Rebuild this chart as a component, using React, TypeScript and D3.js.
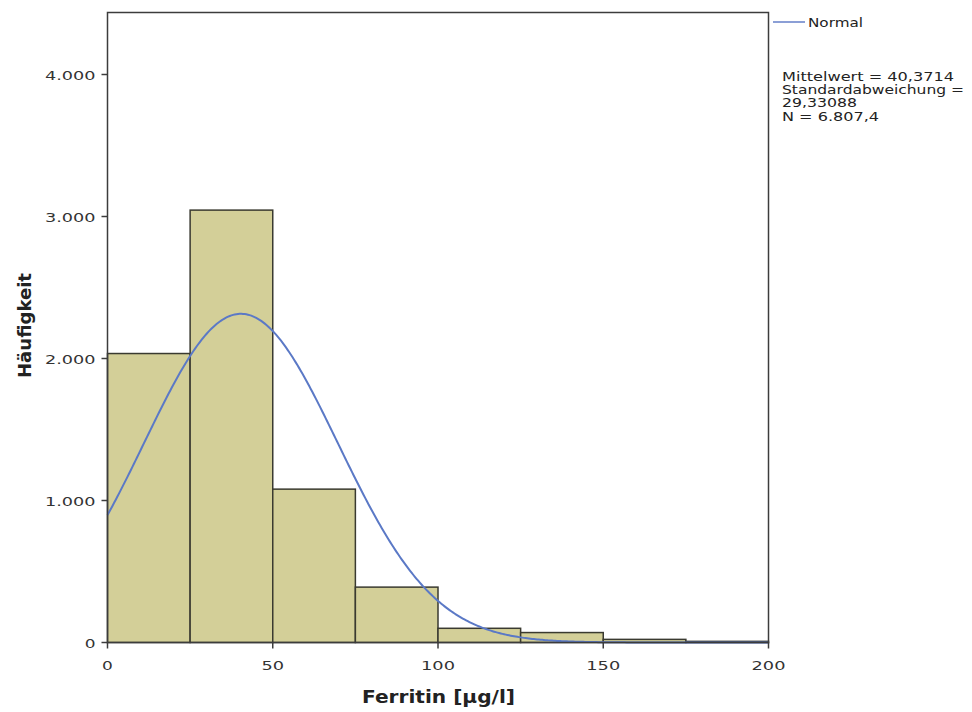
import React from "react";
import * as d3 from "d3";

const binStarts = [0, 25, 50, 75, 100, 125, 150, 175];
const binWidth = 25;
const counts = [2035, 3045, 1080, 390, 100, 70, 22, 8];
const yTicks = [0, 1000, 2000, 3000, 4000];
const xTicks = [0, 50, 100, 150, 200];
const fitMean = 40.3714;
const fitSd = 29.33088;
const fitN = 6807.4;
const statLines = ["Mittelwert = 40,3714", "Standardabweichung =", "29,33088", "N = 6.807,4"];

const fmt = (v: number) => (v === 0 ? "0" : d3.format(",")(v).replace(/,/g, "."));

// approximate rendered width (reference text is horizontally wide)
const tickW = (s: string) => s.length * 11.3 - (s.includes(".") ? 5 : 0) - (s.length === 1 ? 0.5 : 0) + (s.includes(".") ? -1 : 0);
const statW = [172, 182, 75, 97];

export default function App() {
  const W = 972, H = 712;
  const left = 107.5, right = 768.5, top = 12.5, bottom = 642.5;
  const x = d3.scaleLinear().domain([0, 200]).range([left, right]);
  const y = d3.scaleLinear().domain([0, 4000]).range([bottom, 74.5]);

  const pts = d3.range(0, 200.01, 0.5).map((v) => {
    const z = (v - fitMean) / fitSd;
    const val = (fitN * binWidth) / (fitSd * Math.sqrt(2 * Math.PI)) * Math.exp(-0.5 * z * z);
    return [v, val] as [number, number];
  });
  const line = d3.line<[number, number]>().x((d) => x(d[0])).y((d) => y(d[1]));

  const font = "'DejaVu Sans', Verdana, sans-serif";

  return (
    <svg width={W} height={H} style={{ position: "absolute", left: 0, top: 0, background: "#fff" }} fontFamily={font}>
      <rect x={0} y={0} width={W} height={H} fill="#fff" />
      {binStarts.map((b, i) => (
        <rect
          key={i}
          x={x(b)}
          y={y(counts[i])}
          width={x(b + binWidth) - x(b)}
          height={y(0) - y(counts[i])}
          fill="#d3cf98"
          stroke="#3a3a30"
          strokeWidth={1.5}
        />
      ))}
      <path d={line(pts) || ""} fill="none" stroke="#5b79c6" strokeWidth={2} />
      <rect x={left} y={top} width={right - left} height={bottom - top} fill="none" stroke="#3c3c3c" strokeWidth={1.5} />
      {yTicks.map((t) => {
        const s = fmt(t);
        return (
          <g key={t}>
            <line x1={left - 6} x2={left} y1={y(t)} y2={y(t)} stroke="#3c3c3c" strokeWidth={1.5} />
            <text
              x={left - 12 - tickW(s)}
              y={y(t) + 5}
              fontSize={13}
              fill="#333"
              textLength={tickW(s)}
              lengthAdjust="spacingAndGlyphs"
            >
              {s}
            </text>
          </g>
        );
      })}
      {xTicks.map((t) => {
        const s = String(t);
        return (
          <g key={t}>
            <line x1={x(t)} x2={x(t)} y1={bottom} y2={bottom + 6} stroke="#3c3c3c" strokeWidth={1.5} />
            <text
              x={x(t) - tickW(s) / 2}
              y={670}
              fontSize={13}
              fill="#333"
              textLength={tickW(s)}
              lengthAdjust="spacingAndGlyphs"
            >
              {s}
            </text>
          </g>
        );
      })}
      <text x={362} y={703} fontSize={18} fontWeight="bold" fill="#222" textLength={153} lengthAdjust="spacingAndGlyphs">
        Ferritin [µg/l]
      </text>
      <text
        transform={`translate(31,378) rotate(-90)`}
        fontSize={18}
        fontWeight="bold"
        fill="#222"
        textLength={105}
        lengthAdjust="spacingAndGlyphs"
      >
        Häufigkeit
      </text>
      <line x1={773} x2={805} y1={22} y2={22} stroke="#8b9fd6" strokeWidth={2} />
      <text x={808} y={27} fontSize={13} fill="#222" textLength={55} lengthAdjust="spacingAndGlyphs">
        Normal
      </text>
      {statLines.map((s, i) => (
        <text key={i} x={782} y={81 + i * 13.2} fontSize={13} fill="#222" textLength={statW[i]} lengthAdjust="spacingAndGlyphs">
          {s}
        </text>
      ))}
    </svg>
  );
}
